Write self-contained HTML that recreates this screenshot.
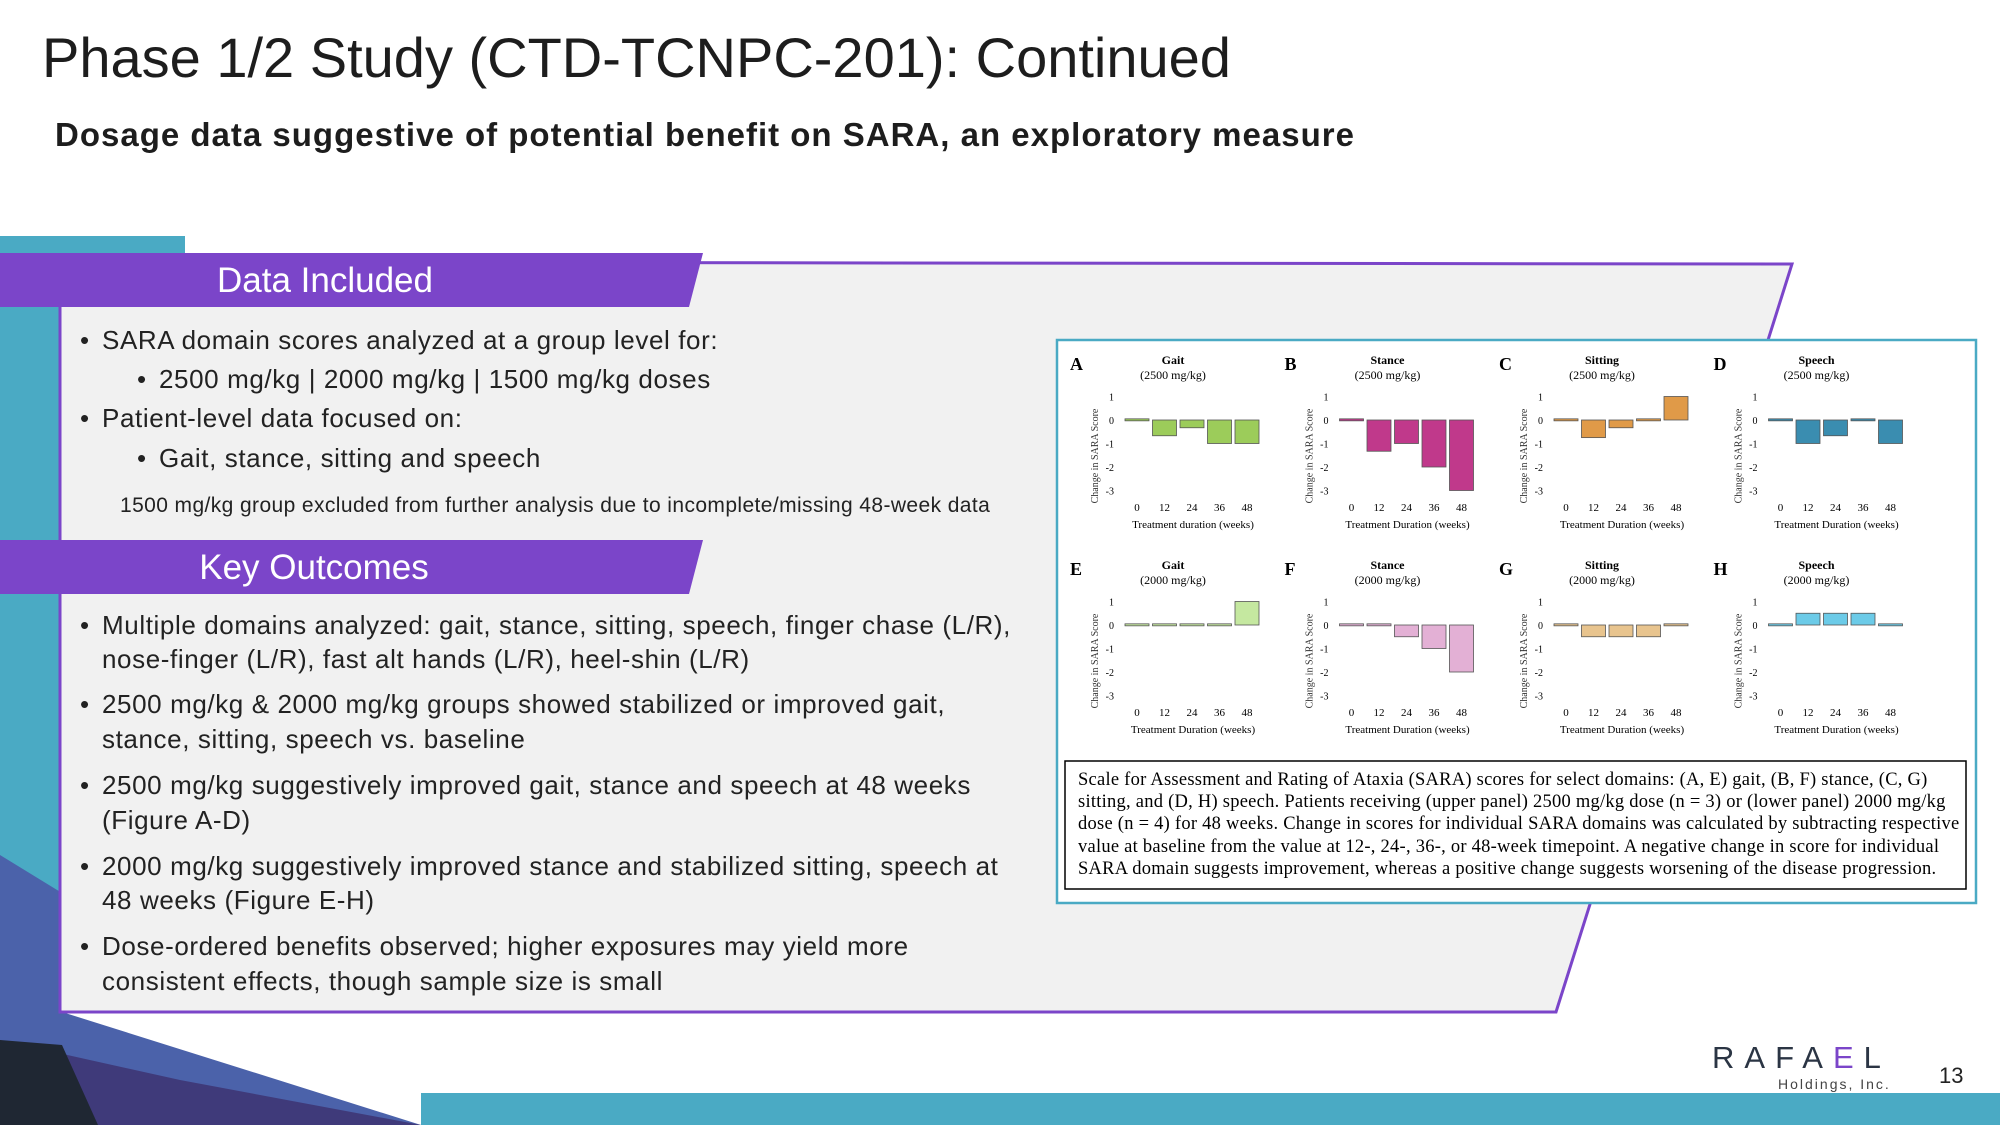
<!DOCTYPE html>
<html><head><meta charset="utf-8"><style>
html,body{margin:0;padding:0;background:#fff;}
svg{display:block;}
</style></head><body>
<svg id="page" width="2000" height="1125" viewBox="0 0 2000 1125" xmlns="http://www.w3.org/2000/svg" font-family="Liberation Sans, sans-serif">
<text x="42" y="77" font-size="56" fill="#1d1d1d">Phase 1/2 Study (CTD-TCNPC-201): Continued</text>
<text x="55" y="146" font-size="33" font-weight="bold" fill="#1d1d1d" letter-spacing="1">Dosage data suggestive of potential benefit on SARA, an exploratory measure</text>

<rect x="0" y="236" width="185" height="20" fill="#4aaac4"/>
<rect x="0" y="236" width="62" height="889" fill="#4aaac4"/>
<polygon points="0,855 62,893 62,1012 421,1125 0,1125" fill="#4b62aa"/>
<polygon points="0,1040 180,1080 421,1125 0,1125" fill="#3f3a7a"/>
<polygon points="0,1040 62,1045 98,1125 0,1125" fill="#1f2733"/>
<rect x="421" y="1093" width="1579" height="32" fill="#4aaac4"/>

<polygon points="60,262 1792,264 1556,1012 60,1012" fill="#f1f1f1" stroke="#7b45c9" stroke-width="3"/>

<polygon points="0,253 703,253 689,307 0,307" fill="#7b45c9"/>
<text x="325" y="292" font-size="35" fill="#fff" text-anchor="middle">Data Included</text>
<polygon points="0,540 703,540 689,594 0,594" fill="#7b45c9"/>
<text x="314" y="579" font-size="35" fill="#fff" text-anchor="middle">Key Outcomes</text>

<g font-size="26" fill="#222" letter-spacing="0.6">
<text x="80" y="349">•</text><text x="102" y="349">SARA domain scores analyzed at a group level for:</text>
<text x="137" y="388">•</text><text x="159" y="388">2500 mg/kg | 2000 mg/kg | 1500 mg/kg doses</text>
<text x="80" y="427">•</text><text x="102" y="427">Patient-level data focused on:</text>
<text x="137" y="467">•</text><text x="159" y="467">Gait, stance, sitting and speech</text>
<text x="120" y="512" font-size="21" letter-spacing="0.4">1500 mg/kg group excluded from further analysis due to incomplete/missing 48-week data</text>
</g>
<g font-size="26" fill="#222" letter-spacing="0.6">
<text x="80" y="634">•</text><text x="102" y="634">Multiple domains analyzed: gait, stance, sitting, speech, finger chase (L/R),</text>
<text x="102" y="668">nose-finger (L/R), fast alt hands (L/R), heel-shin (L/R)</text>
<text x="80" y="713">•</text><text x="102" y="713">2500 mg/kg &amp; 2000 mg/kg groups showed stabilized or improved gait,</text>
<text x="102" y="748">stance, sitting, speech vs. baseline</text>
<text x="80" y="794">•</text><text x="102" y="794">2500 mg/kg suggestively improved gait, stance and speech at 48 weeks</text>
<text x="102" y="829">(Figure A-D)</text>
<text x="80" y="875">•</text><text x="102" y="875">2000 mg/kg suggestively improved stance and stabilized sitting, speech at</text>
<text x="102" y="909">48 weeks (Figure E-H)</text>
<text x="80" y="955">•</text><text x="102" y="955">Dose-ordered benefits observed; higher exposures may yield more</text>
<text x="102" y="990">consistent effects, though sample size is small</text>
</g>

<rect x="1057" y="340" width="919" height="563" fill="#fff" stroke="#4aaac4" stroke-width="2.5"/>
<g id="charts" font-family="Liberation Serif, serif"></g>

<rect x="1065" y="761" width="901" height="128" fill="#fff" stroke="#000" stroke-width="1.5"/>
<g font-family="Liberation Serif, serif" font-size="18.5" letter-spacing="0.25" fill="#000">
<text x="1078" y="785">Scale for Assessment and Rating of Ataxia (SARA) scores for select domains: (A, E) gait, (B, F) stance, (C, G)</text>
<text x="1078" y="807">sitting, and (D, H) speech. Patients receiving (upper panel) 2500 mg/kg dose (n = 3) or (lower panel) 2000 mg/kg</text>
<text x="1078" y="829">dose (n = 4) for 48 weeks. Change in scores for individual SARA domains was calculated by subtracting respective</text>
<text x="1078" y="852">value at baseline from the value at 12-, 24-, 36-, or 48-week timepoint. A negative change in score for individual</text>
<text x="1078" y="874">SARA domain suggests improvement, whereas a positive change suggests worsening of the disease progression.</text>
</g>

<text x="1712" y="1068" font-size="31" fill="#2b3544" letter-spacing="10">RAFA<tspan fill="#7b45c9">E</tspan>L</text>
<text x="1778" y="1089" font-size="14" fill="#444" letter-spacing="2">Holdings, Inc.</text>
<text x="1939" y="1083" font-size="22" fill="#222">13</text>
</svg>
<script>
const letters = ["A","B","C","D","E","F","G","H"];
const domains = ["Gait","Stance","Sitting","Speech","Gait","Stance","Sitting","Speech"];
const doses = ["(2500 mg/kg)","(2500 mg/kg)","(2500 mg/kg)","(2500 mg/kg)","(2000 mg/kg)","(2000 mg/kg)","(2000 mg/kg)","(2000 mg/kg)"];
const weeks = ["0","12","24","36","48"];
const yTicks = [1,0,-1,-2,-3];
const gait2500 = [0.05,-0.67,-0.33,-1,-1];
const stance2500 = [0.05,-1.33,-1,-2,-3];
const sitting2500 = [0.05,-0.75,-0.33,0.05,1];
const speech2500 = [0.05,-1,-0.67,0.05,-1];
const gait2000 = [0.05,0.05,0.05,0.05,1];
const stance2000 = [0.05,0.05,-0.5,-1,-2];
const sitting2000 = [0.05,-0.5,-0.5,-0.5,0.05];
const speech2000 = [0.05,0.5,0.5,0.5,0.05];
const seriesList = [gait2500,stance2500,sitting2500,speech2500,gait2000,stance2000,sitting2000,speech2000];
const fills = ["#9ccc5a","#c0398b","#e09a48","#3a8db0","#c5e8a0","#e3b0d5","#e8c48e","#6ccbe8"];
const xTitles = ["Treatment duration (weeks)","Treatment Duration (weeks)","Treatment Duration (weeks)","Treatment Duration (weeks)","Treatment Duration (weeks)","Treatment Duration (weeks)","Treatment Duration (weeks)","Treatment Duration (weeks)"];

const NS = "http://www.w3.org/2000/svg";
const root = document.getElementById("charts");
function mk(tag, attrs, parent, txt){
  const e = document.createElementNS(NS, tag);
  for (const k in attrs) e.setAttribute(k, attrs[k]);
  if (txt !== undefined) e.textContent = txt;
  parent.appendChild(e);
  return e;
}
const unit = 23.5, zeroY = 80;
function yScale(v){ return zeroY - v*unit; }
function xScale(i){ return 69 + i*27.5; }
seriesList.forEach((vals, p) => {
  const c = p % 4, r = Math.floor(p/4);
  const ox = 1056 + c*214.5, oy = 340 + r*205;
  const g = mk("g", {transform:"translate("+ox+","+oy+")"}, root);
  
  
  mk("text", {x:14, y:30, "font-size":18, "font-weight":"bold"}, g, letters[p]);
  mk("text", {x:117, y:24, "font-size":12, "font-weight":"bold", "text-anchor":"middle"}, g, domains[p]);
  mk("text", {x:117, y:39, "font-size":12, "text-anchor":"middle"}, g, doses[p]);
  yTicks.forEach(t => {
    mk("text", {x:58, y:yScale(t)+4, "font-size":10, "text-anchor":"end"}, g, String(t));
  });
  mk("text", {transform:"translate(42,116) rotate(-90)", "font-size":10, "text-anchor":"middle", fill:"#333"}, g, "Change in SARA Score");
  vals.forEach((v, i) => {
    const x = xScale(i), y0 = yScale(0), y1 = yScale(v);
    const b = mk("rect", {x:x, y:Math.min(y0,y1), width:24, height:Math.max(2,Math.abs(y1-y0)), fill:fills[p], stroke:"#555", "stroke-width":0.8}, g);
    
    
    mk("text", {x:x+12, y:171, "font-size":11, "text-anchor":"middle"}, g, weeks[i]);
  });
  mk("text", {x:137, y:188, "font-size":11, "text-anchor":"middle"}, g, xTitles[p]);
});
</script>
</body></html>
